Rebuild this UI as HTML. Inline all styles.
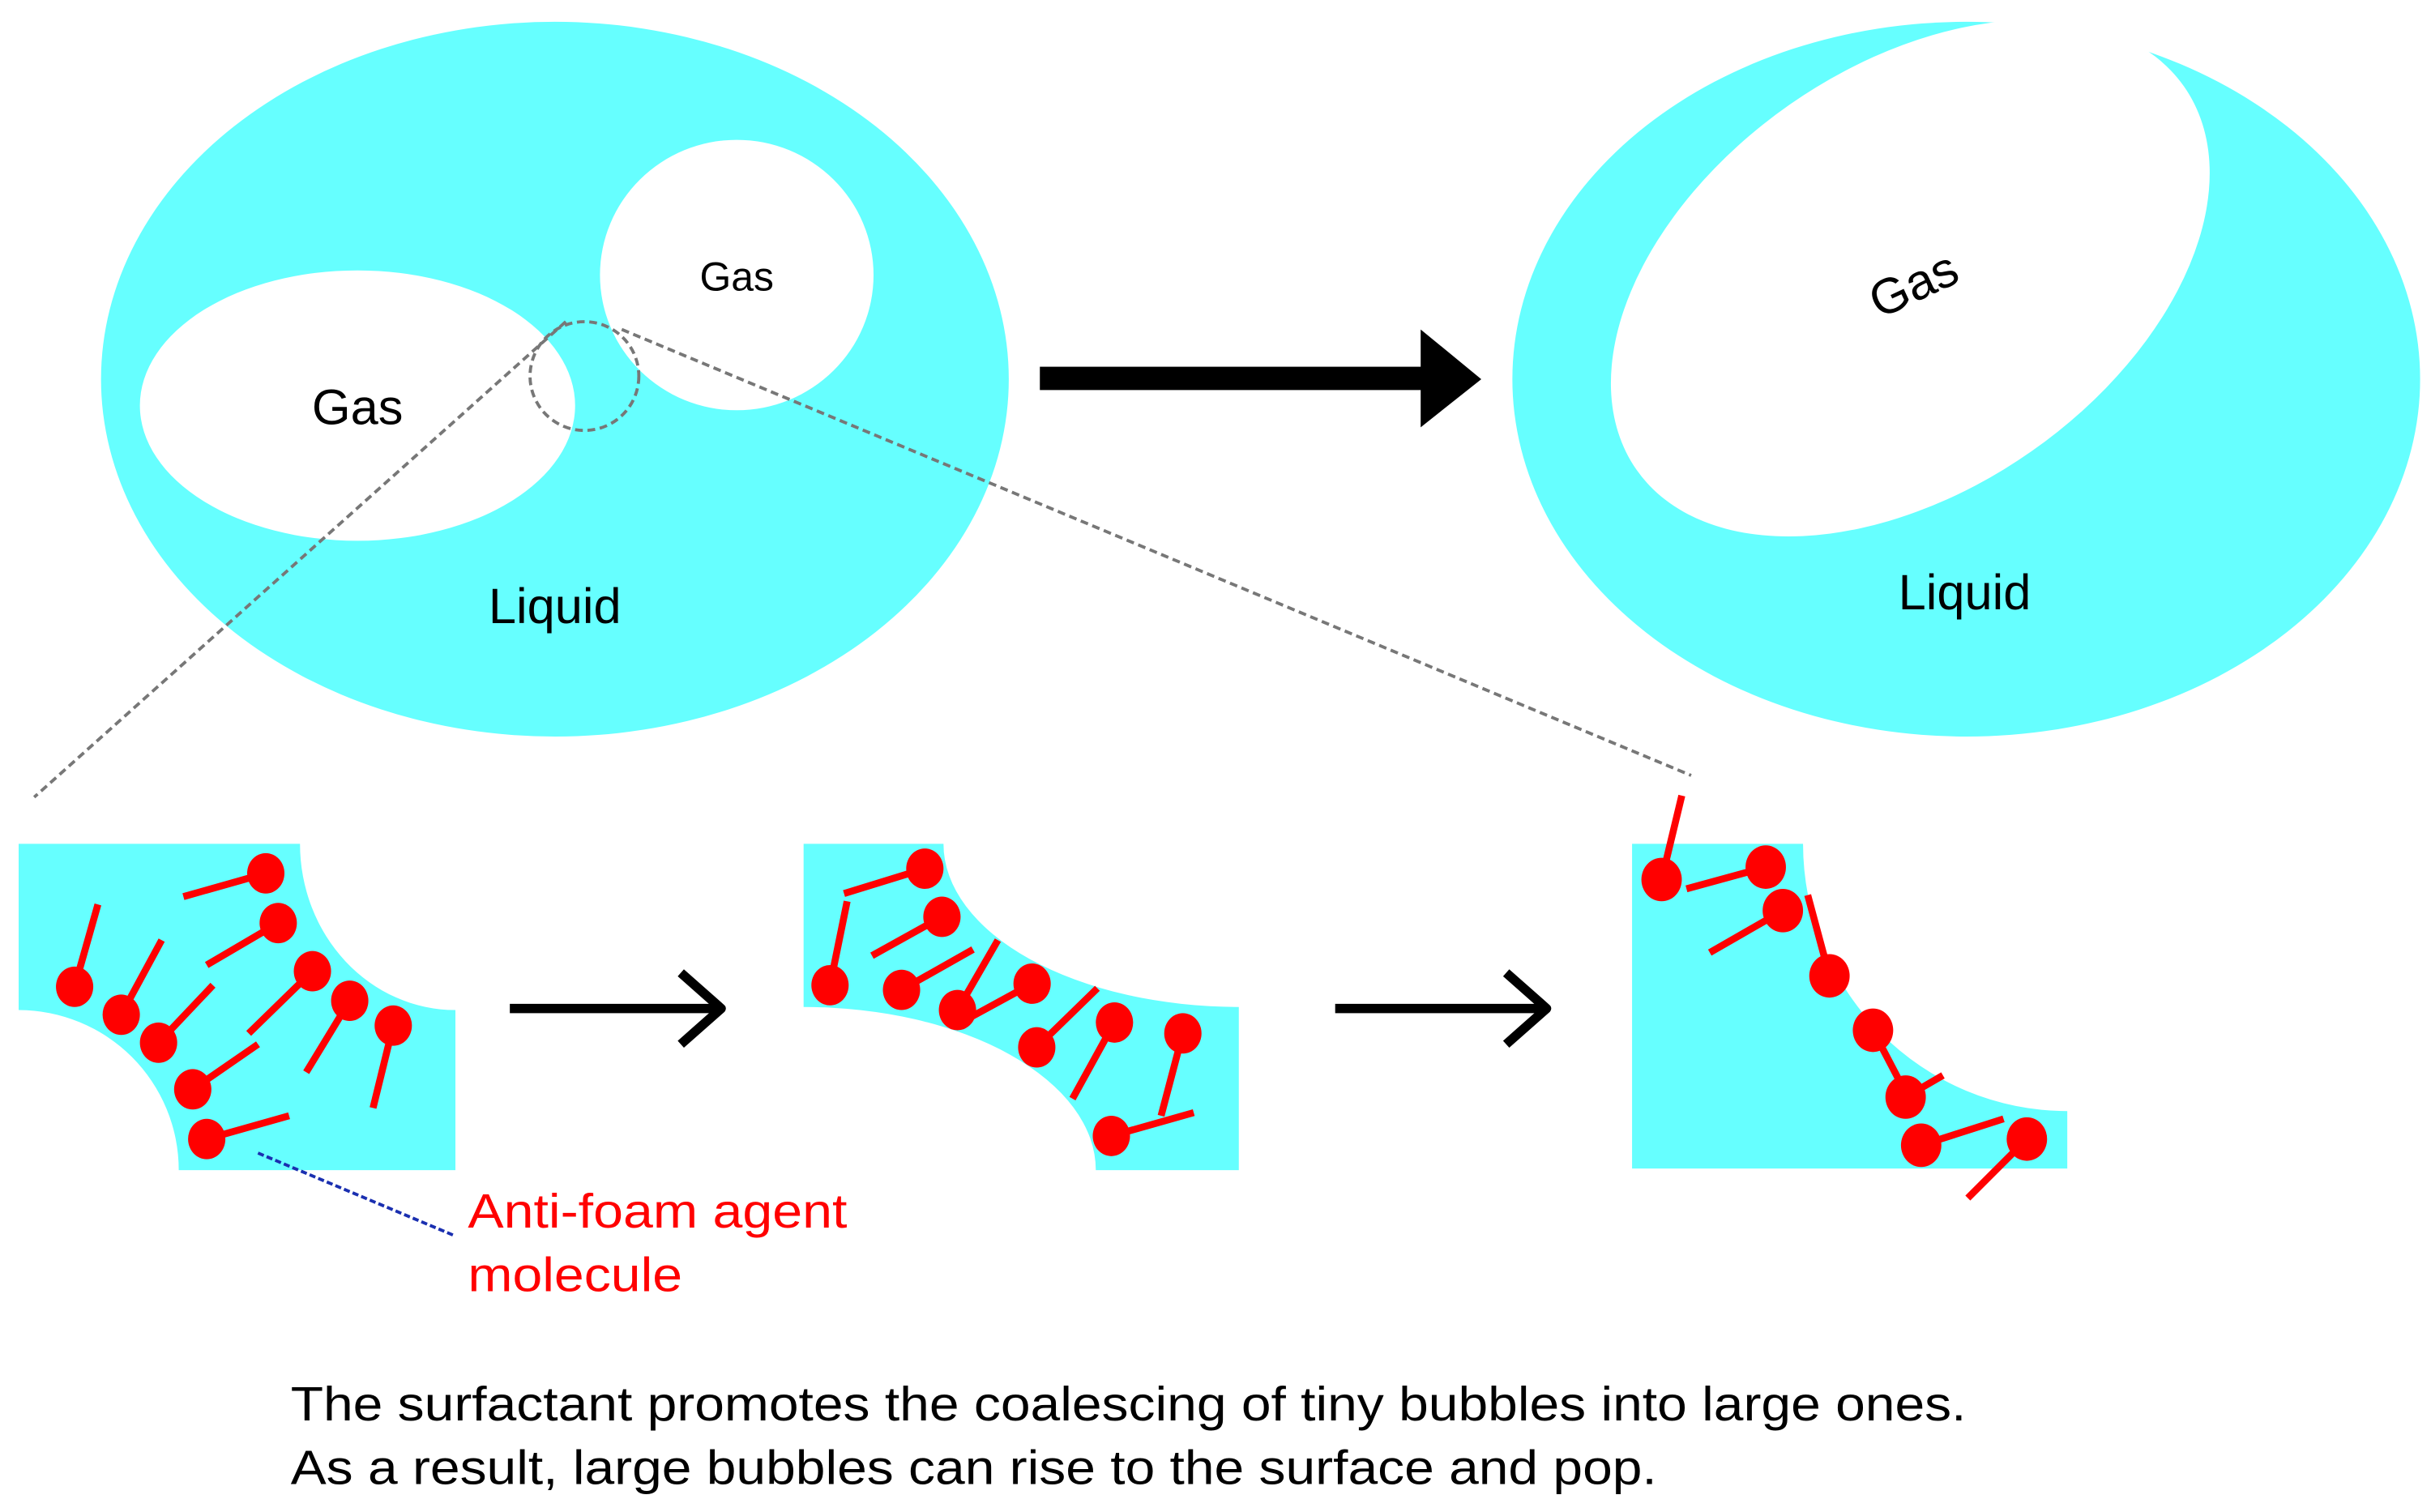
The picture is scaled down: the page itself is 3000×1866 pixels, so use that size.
<!DOCTYPE html>
<html><head><meta charset="utf-8"><style>html,body{margin:0;padding:0;background:#fff}svg{display:block}</style></head>
<body>
<svg width="3000" height="1866" viewBox="0 0 1564 973" preserveAspectRatio="none" xmlns="http://www.w3.org/2000/svg" font-family="Liberation Sans, Arial, sans-serif">
<rect width="1564" height="973" fill="#fff"/>
<ellipse cx="357" cy="244" rx="292" ry="230" fill="#66ffff"/>
<ellipse cx="230" cy="261" rx="140" ry="87" fill="#fff"/>
<ellipse cx="474" cy="177" rx="88" ry="87" fill="#fff"/>
<text x="230" y="273" font-size="32" text-anchor="middle">Gas</text>
<text x="474" y="187" font-size="26" text-anchor="middle">Gas</text>
<text x="357" y="401" font-size="32" text-anchor="middle">Liquid</text>
<circle cx="376" cy="242" r="35" fill="none" stroke="#777" stroke-width="2" stroke-dasharray="5,3"/>
<line x1="364" y1="207" x2="22" y2="513" stroke="#777" stroke-width="2" stroke-dasharray="5,3"/>
<line x1="400" y1="212" x2="1088" y2="499" stroke="#777" stroke-width="2" stroke-dasharray="5,3"/>
<rect x="669" y="236" width="250" height="15" fill="#000"/>
<polygon points="914,212 953,244 914,275" fill="#000"/>
<ellipse cx="1265" cy="244" rx="292" ry="230" fill="#66ffff"/>
<ellipse cx="1229" cy="179" rx="215" ry="136" transform="rotate(-35 1229 179)" fill="#fff"/>
<text x="1231" y="194" font-size="32" text-anchor="middle" transform="rotate(-25 1231 183)">Gas</text>
<text x="1264" y="392" font-size="32" text-anchor="middle">Liquid</text>
<path d="M12,543 L193,543 A100,107 0 0 0 293,650 L293,753 L115,753 A103,103 0 0 0 12,650 Z" fill="#66ffff"/>
<path d="M517,543 L607,543 A190,105 0 0 0 797,648 L797,753 L705,753 A188,105 0 0 0 517,648 Z" fill="#66ffff"/>
<path d="M1050,543 L1160,543 A170,172 0 0 0 1330,715 L1330,752 L1050,752 Z" fill="#66ffff"/>
<g stroke="#000" stroke-width="6" fill="none" stroke-linecap="butt">
<line x1="328" y1="649" x2="463" y2="649"/><polyline points="438,626 464,649 438,672" stroke-linejoin="round"/>
<line x1="859" y1="649" x2="994" y2="649"/><polyline points="969,626 995,649 969,672" stroke-linejoin="round"/>
</g>
<g stroke="#ff0000" stroke-width="4.5" fill="#ff0000">
<line x1="171" y1="562" x2="118" y2="577"/>
<line x1="179" y1="594" x2="133" y2="621"/>
<line x1="48" y1="635" x2="63" y2="582"/>
<line x1="78" y1="653" x2="104" y2="605"/>
<line x1="102" y1="671" x2="137" y2="634"/>
<line x1="201" y1="625" x2="160" y2="665"/>
<line x1="225" y1="644" x2="197" y2="690"/>
<line x1="253" y1="660" x2="240" y2="713"/>
<line x1="124" y1="701" x2="166" y2="672"/>
<line x1="133" y1="733" x2="186" y2="718"/>
<line x1="595" y1="559" x2="543" y2="575"/>
<line x1="606" y1="590" x2="561" y2="615"/>
<line x1="534" y1="634" x2="545" y2="580"/>
<line x1="580" y1="637" x2="626" y2="611"/>
<line x1="616" y1="650" x2="642" y2="605"/>
<line x1="664" y1="633" x2="620" y2="657"/>
<line x1="667" y1="674" x2="706" y2="636"/>
<line x1="717" y1="658" x2="690" y2="707"/>
<line x1="761" y1="665" x2="747" y2="718"/>
<line x1="715" y1="731" x2="768" y2="716"/>
<line x1="1069" y1="566" x2="1082" y2="512"/>
<line x1="1136" y1="558" x2="1085" y2="572"/>
<line x1="1147" y1="586" x2="1100" y2="613"/>
<line x1="1177" y1="628" x2="1163" y2="576"/>
<line x1="1205" y1="663" x2="1228" y2="707"/>
<line x1="1226" y1="706" x2="1250" y2="692"/>
<line x1="1236" y1="737" x2="1289" y2="720"/>
<line x1="1304" y1="733" x2="1266" y2="771"/>
</g>
<g fill="#ff0000">
<ellipse cx="171" cy="562" rx="12" ry="13"/><ellipse cx="179" cy="594" rx="12" ry="13"/>
<ellipse cx="48" cy="635" rx="12" ry="13"/><ellipse cx="78" cy="653" rx="12" ry="13"/>
<ellipse cx="102" cy="671" rx="12" ry="13"/><ellipse cx="201" cy="625" rx="12" ry="13"/>
<ellipse cx="225" cy="644" rx="12" ry="13"/><ellipse cx="253" cy="660" rx="12" ry="13"/>
<ellipse cx="124" cy="701" rx="12" ry="13"/><ellipse cx="133" cy="733" rx="12" ry="13"/>
<ellipse cx="595" cy="559" rx="12" ry="13"/><ellipse cx="606" cy="590" rx="12" ry="13"/>
<ellipse cx="534" cy="634" rx="12" ry="13"/><ellipse cx="580" cy="637" rx="12" ry="13"/>
<ellipse cx="616" cy="650" rx="12" ry="13"/><ellipse cx="664" cy="633" rx="12" ry="13"/>
<ellipse cx="667" cy="674" rx="12" ry="13"/><ellipse cx="717" cy="658" rx="12" ry="13"/>
<ellipse cx="761" cy="665" rx="12" ry="13"/><ellipse cx="715" cy="731" rx="12" ry="13"/>
<ellipse cx="1069" cy="566" rx="13" ry="14"/><ellipse cx="1136" cy="558" rx="13" ry="14"/>
<ellipse cx="1147" cy="586" rx="13" ry="14"/><ellipse cx="1177" cy="628" rx="13" ry="14"/>
<ellipse cx="1205" cy="663" rx="13" ry="14"/><ellipse cx="1226" cy="706" rx="13" ry="14"/>
<ellipse cx="1236" cy="737" rx="13" ry="14"/><ellipse cx="1304" cy="733" rx="13" ry="14"/>
</g>
<line x1="166" y1="742" x2="292" y2="795" stroke="#1a2fb0" stroke-width="2" stroke-dasharray="4,2"/>
<text x="301" y="790" font-size="31" fill="#ff0000" textLength="244" lengthAdjust="spacingAndGlyphs">Anti-foam agent</text>
<text x="301" y="831" font-size="31" fill="#ff0000" textLength="138" lengthAdjust="spacingAndGlyphs">molecule</text>
<text x="187" y="914" font-size="31" fill="#000" textLength="1078" lengthAdjust="spacingAndGlyphs">The surfactant promotes the coalescing of tiny bubbles into large ones.</text>
<text x="187" y="955" font-size="31" fill="#000" textLength="879" lengthAdjust="spacingAndGlyphs">As a result, large bubbles can rise to the surface and pop.</text>
</svg>
</body></html>
